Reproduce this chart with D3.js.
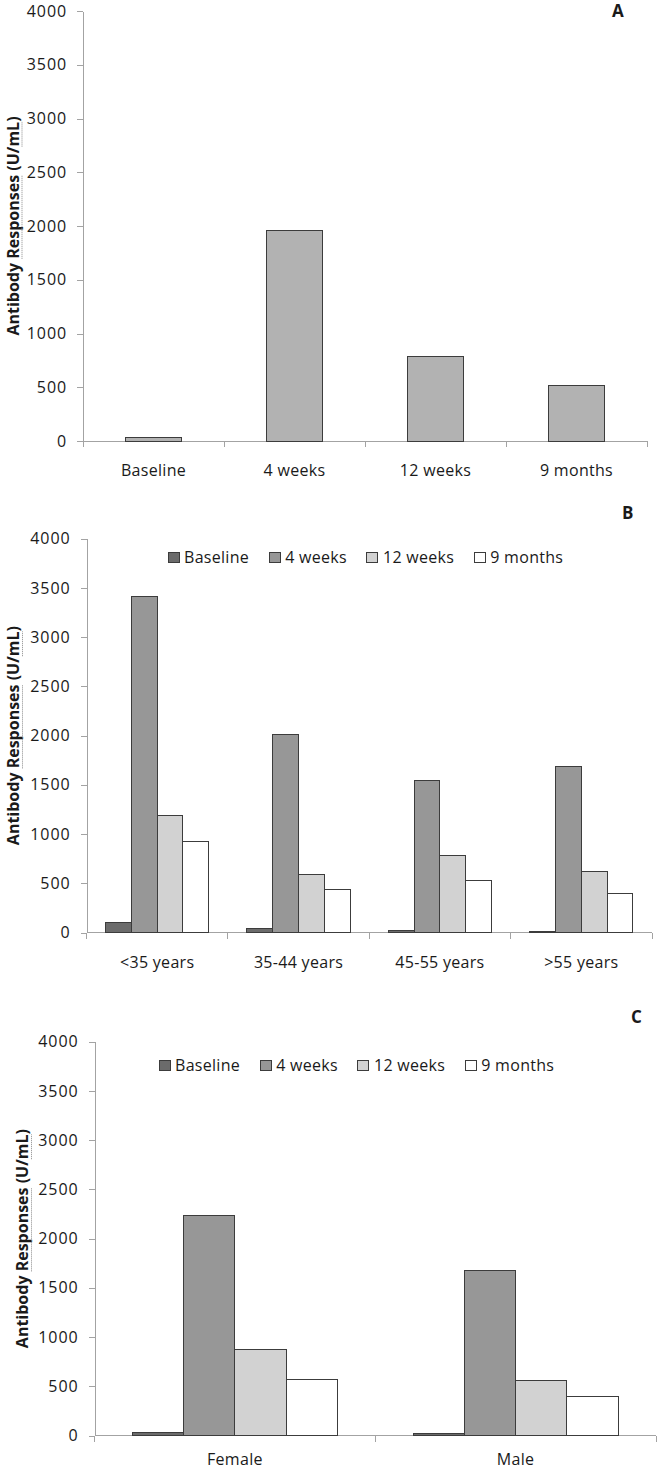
<!DOCTYPE html>
<html>
<head>
<meta charset="utf-8">
<script src="https://cdn.jsdelivr.net/npm/d3@7"></script>
<style>
  body { margin: 0; background: #fff; }
  svg text { font-family: "Open Sans", "Liberation Sans", sans-serif; fill: #1a1a1a; }
</style>
</head>
<body>
<svg id="chart" width="661" height="1472"></svg>
<script>
// ---- data ----
const yTicks = [0, 500, 1000, 1500, 2000, 2500, 3000, 3500, 4000];
const seriesNames = ["Baseline", "4 weeks", "12 weeks", "9 months"];

// panel A: overall
const timepoints = ["Baseline", "4 weeks", "12 weeks", "9 months"];
const overallValues = [30, 1955, 790, 520];

// panel B: by age
const ageGroups = ["<35 years", "35-44 years", "45-55 years", ">55 years"];
const ageBaseline = [105, 40, 25, 15];
const age4Weeks = [3410, 2015, 1545, 1685];
const age12Weeks = [1190, 590, 785, 615];
const age9Months = [925, 440, 530, 400];

// panel C: by sex
const sexGroups = ["Female", "Male"];
const sexBaseline = [35, 25];
const sex4Weeks = [2235, 1675];
const sex12Weeks = [875, 560];
const sex9Months = [565, 395];

const seriesColors = ["#6b6b6b", "#979797", "#d2d2d2", "#ffffff"];

const svg = d3.select("#chart");

function drawPanel(p) {
    const g = svg.append("g");
    const y = d3.scaleLinear().domain([0, 4000]).range([p.bottom, p.top]);
    const x0 = d3.scaleBand().domain(p.categories).range([p.left, p.right])
        .paddingInner(p.pad).paddingOuter(p.pad / 2);
    const step = x0.step();

    // y axis
    const yAxis = g.append("g")
        .attr("transform", `translate(${p.left},0)`)
        .call(d3.axisLeft(y).tickValues(yTicks).tickFormat(d3.format("d"))
            .tickSize(6).tickSizeOuter(0).tickPadding(10));
    yAxis.selectAll("path, line").attr("stroke", "#a3a3a3").attr("shape-rendering", "crispEdges");
    yAxis.selectAll("text").style("font-size", "16px").style("letter-spacing", "0.9px").attr("fill", "#1a1a1a");

    // x axis baseline + boundary ticks
    g.append("line")
        .attr("x1", p.left).attr("x2", p.right)
        .attr("y1", y(0)).attr("y2", y(0))
        .attr("stroke", "#a3a3a3").attr("shape-rendering", "crispEdges");
    g.selectAll(".btick")
        .data(d3.range(p.categories.length + 1))
        .join("line")
        .attr("x1", i => p.left + i * step).attr("x2", i => p.left + i * step)
        .attr("y1", y(0)).attr("y2", y(0) + 6)
        .attr("stroke", "#a3a3a3").attr("shape-rendering", "crispEdges");

    // category labels
    g.selectAll(".clabel")
        .data(p.categories)
        .join("text")
        .attr("x", d => x0(d) + x0.bandwidth() / 2)
        .attr("y", p.labelY)
        .attr("text-anchor", "middle")
        .style("font-size", "16px")
        .style("letter-spacing", "0.3px")
        .text(d => d);

    // bars
    if (p.series.length === 1) {
        g.selectAll(".bar")
            .data(p.series[0].values)
            .join("rect")
            .attr("x", (d, i) => x0(p.categories[i]))
            .attr("width", x0.bandwidth())
            .attr("y", d => y(d))
            .attr("height", d => y(0) - y(d))
            .attr("fill", p.series[0].color)
            .attr("stroke", "#3c3c3c")
            .attr("shape-rendering", "crispEdges");
    } else {
        const x1 = d3.scaleBand().domain(p.series.map(s => s.name)).range([0, x0.bandwidth()]);
        p.categories.forEach((c, ci) => {
            g.selectAll(null)
                .data(p.series)
                .join("rect")
                .attr("x", s => x0(c) + x1(s.name))
                .attr("width", x1.bandwidth())
                .attr("y", s => y(s.values[ci]))
                .attr("height", s => y(0) - y(s.values[ci]))
                .attr("fill", s => s.color)
                .attr("stroke", "#3c3c3c")
                .attr("shape-rendering", "crispEdges");
        });

        // legend
        const lg = g.append("g").attr("transform", `translate(${p.legendX},${p.legendY})`);
        let cx = 0;
        p.series.forEach(s => {
            const item = lg.append("g").attr("transform", `translate(${cx},0)`);
            item.append("rect")
                .attr("x", 0).attr("y", -10.5).attr("width", 11).attr("height", 10)
                .attr("fill", s.color).attr("stroke", "#3c3c3c")
                .attr("shape-rendering", "crispEdges");
            const t = item.append("text")
                .attr("x", 16).attr("y", 0)
                .style("font-size", "16px")
                .style("letter-spacing", "0.3px")
                .text(s.name);
            cx += 16 + t.node().getComputedTextLength() + 20;
        });
    }

    // y axis title, with the faint dotted underlines seen under two words
    const tg = g.append("g")
        .attr("transform", `translate(${p.titleX},${(p.top + p.bottom) / 2}) rotate(-90)`);
    const label = "Antibody Responses (U/mL)";
    const title = tg.append("text")
        .attr("text-anchor", "middle")
        .style("font-size", "16px")
        .style("font-weight", "bold")
        .text(label);
    const node = title.node();
    [["Responses"], ["mL"]].forEach(([word]) => {
        const i0 = label.indexOf(word);
        const xs = node.getStartPositionOfChar(i0).x;
        const xe = node.getEndPositionOfChar(i0 + word.length - 1).x;
        tg.append("line")
            .attr("x1", xs).attr("x2", xe)
            .attr("y1", 3.5).attr("y2", 3.5)
            .attr("stroke", "#8a8a8a")
            .attr("stroke-dasharray", "1,1");
    });

    // panel letter
    g.append("text")
        .attr("x", p.letterX).attr("y", p.letterY)
        .style("font-size", "17px")
        .style("font-weight", "bold")
        .text(p.letter);
}

const groupedSeries = (vals) => seriesNames.map((n, i) => ({ name: n, values: vals[i], color: seriesColors[i] }));

drawPanel({
    categories: timepoints,
    series: [{ name: "Overall", values: overallValues, color: "#b2b2b2" }],
    left: 83, right: 647, top: 11, bottom: 441, pad: 0.596,
    labelY: 476, titleX: 18.5, letter: "A", letterX: 612, letterY: 17
});

drawPanel({
    categories: ageGroups,
    series: groupedSeries([ageBaseline, age4Weeks, age12Weeks, age9Months]),
    left: 86.5, right: 652, top: 538.7, bottom: 932.5, pad: 0.27,
    labelY: 968, titleX: 19, letter: "B", letterX: 622, letterY: 519,
    legendX: 168, legendY: 563
});

drawPanel({
    categories: sexGroups,
    series: groupedSeries([sexBaseline, sex4Weeks, sex12Weeks, sex9Months]),
    left: 94.5, right: 656, top: 1041.7, bottom: 1435.5, pad: 0.27,
    labelY: 1465, titleX: 28, letter: "C", letterX: 631, letterY: 1023,
    legendX: 159, legendY: 1070.5
});
</script>
</body>
</html>
